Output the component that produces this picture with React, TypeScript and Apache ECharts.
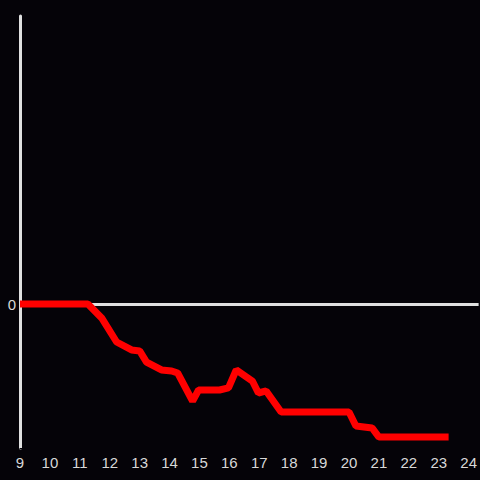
import React, { useEffect, useRef } from "react";
import * as echarts from "echarts";

const hours = [9, 11.27, 11.73, 12.23, 12.73, 13.0, 13.23, 13.73, 14.07, 14.27, 14.77, 14.97, 15.67, 15.97, 16.23, 16.77, 16.97, 17.23, 17.73, 20.0, 20.23, 20.77, 21.0, 23.33];
const values = [0, 0, -9.7, -26.4, -31.9, -32.6, -40.3, -45.8, -46.5, -47.9, -67.4, -59.7, -59.7, -58.3, -45.8, -53.5, -61.8, -60.4, -75, -75, -84.7, -86.1, -92.4, -92.4];

export default function App() {
  const ref = useRef<HTMLDivElement>(null);
  useEffect(() => {
    const chart = echarts.init(ref.current!, null, { renderer: "svg" });
    chart.setOption({
      animation: false,
      backgroundColor: "#050308",
      grid: { left: 20, right: 0, top: 16, bottom: 32 },
      xAxis: {
        type: "value",
        min: 9,
        max: 24.333,
        interval: 1,
        axisLine: { show: true, onZero: false, lineStyle: { color: "#050308" } },
        axisTick: { show: false },
        splitLine: { show: false },
        axisLabel: {
          color: "#d8d8d8",
          fontSize: 15,
          fontFamily: "Liberation Sans",
          margin: 7,
          showMaxLabel: false,
          formatter: (v: number) => (Number.isInteger(v) ? String(v) : ""),
        },
      },
      yAxis: {
        type: "value",
        min: -100,
        max: 200,
        interval: 100,
        axisLine: { show: true, lineStyle: { color: "#e0e0e0", width: 3 } },
        axisTick: { show: false },
        splitLine: { show: false },
        axisLabel: {
          color: "#d8d8d8",
          fontSize: 15,
          fontFamily: "Liberation Sans",
          margin: 4,
          formatter: (v: number) => (v === 0 ? "0" : ""),
        },
      },
      series: [
        {
          type: "line",
          data: hours.map((h, i) => [h, values[i]]),
          showSymbol: false,
          lineStyle: { color: "#ff0000", width: 7 },
          z: 3,
          markLine: {
            silent: true,
            symbol: "none",
            label: { show: false },
            lineStyle: { color: "#e0e0e0", width: 3, type: "solid" },
            data: [{ yAxis: 0 }],
            z: 1,
          },
        },
      ],
    });
    return () => chart.dispose();
  }, []);
  return <div ref={ref} style={{ position: "fixed", left: 0, top: 0, width: 480, height: 480 }} />;
}
